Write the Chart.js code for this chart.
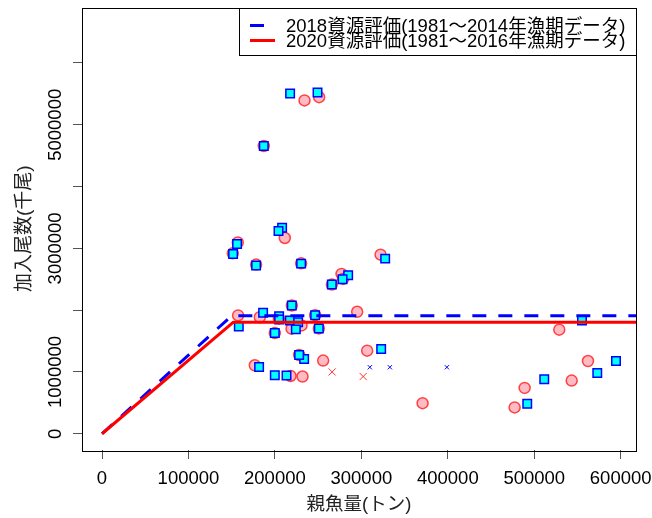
<!DOCTYPE html>
<html>
<head>
<meta charset="utf-8">
<script src="https://cdn.jsdelivr.net/npm/chart.js@4.4.1/dist/chart.umd.min.js"></script>
<style>
  html, body { margin: 0; padding: 0; background: #fff; }
  #wrap { width: 652px; height: 518px; }
</style>
</head>
<body>
<div id="wrap"><canvas id="srChart" width="652" height="518"></canvas></div>
<script>
const xTicks = [0, 100000, 200000, 300000, 400000, 500000, 600000];
const yTicks = [0, 1000000, 2000000, 3000000, 4000000, 5000000, 6000000];
const yTickLabels = ['0', '1000000', '', '3000000', '', '5000000', ''];

// 2020 assessment (1981-2016), circles
const ssb2020 = [234250, 251160, 187150, 211460, 157060, 151270, 178240, 230320, 322220, 277080,
                 278930, 265850, 219560, 295140, 246530, 250810, 306710, 255790, 228010, 218060,
                 231940, 370840, 157410, 182520, 219210, 230790, 199880, 176740, 204510, 528930,
                 562150, 543290, 488890, 477310];
const rec2020 = [5394000, 5447000, 4656000, 3168000, 3097000, 2919000, 2737000, 2758000, 2898000, 2587000,
                 2506000, 2414000, 2076000, 1974000, 1919000, 1705000, 1345000, 1184000, 1274000, 935000,
                 926000, 495000, 1915000, 1887000, 1700000, 1753000, 1629000, 1108000, 1866000, 1684000,
                 1177000, 861000, 742000, 426000];

// 2018 assessment (1981-2014), squares
const ssb2018 = [217590, 249300, 187150, 208330, 204170, 156250, 151620, 178240, 230320, 327550,
                 284720, 278240, 265850, 219560, 246530, 250810, 322910, 233800, 228010, 213430,
                 158220, 186340, 204860, 204860, 217250, 226850, 224190, 199880, 181710, 199880,
                 555210, 594560, 572910, 511570, 491900];
const rec2018 = [5506000, 5523000, 4656000, 3334000, 3281000, 3071000, 2910000, 2721000, 2753000, 2834000,
                 2565000, 2500000, 2414000, 2076000, 1919000, 1705000, 1371000, 1210000, 1274000, 942000,
                 1737000, 1958000, 1903000, 1850000, 1834000, 1806000, 1689000, 1629000, 1081000, 947000,
                 1834000, 1177000, 984000, 882000, 484000];

const redCrossX = [266200, 302080];
const redCrossY = [1000000, 926000];
const blueCrossX = [309840, 332990, 398960];
const blueCrossY = [1076000, 1076000, 1076000];

// hockey-stick fits
const hs2018X = [0, 150000, 640000];
const hs2018Y = [0, 1910000, 1910000];
const hs2020X = [0, 152000, 640000];
const hs2020Y = [0, 1806000, 1806000];

const legendLabels = ['2018資源評価(1981～2014年漁期データ)', '2020資源評価(1981～2016年漁期データ)'];

const LATIN = '"Liberation Sans", Arial, sans-serif';
const CJK = '"Liberation Sans", "Noto Sans CJK JP", sans-serif';

function pairs(xs, ys) {
    return xs.map((x, i) => ({ x, y: ys[i] }));
}

const frameAndLegend = {
    id: 'frameAndLegend',
    afterDraw(chart) {
        const { ctx, chartArea: a } = chart;
        ctx.save();
        ctx.strokeStyle = '#000';
        ctx.lineWidth = 1;
        ctx.setLineDash([]);
        ctx.strokeRect(Math.round(a.left) + 0.5, Math.round(a.top) + 0.5,
            Math.round(a.right - a.left), Math.round(a.bottom - a.top));

        // legend box, top right inside the plot
        const bx = 239.5, by = Math.round(a.top) + 0.5, bw = Math.round(a.right) - 239, bh = 47;
        ctx.fillStyle = '#fff';
        ctx.fillRect(bx, by, bw, bh);
        ctx.strokeRect(bx, by, bw, bh);

        const items = chart.data.datasets.filter(d => d.legendText);
        items.forEach((d, i) => {
            const y = by + 17 + i * 15;
            ctx.strokeStyle = d.borderColor;
            ctx.lineWidth = d.borderWidth;
            ctx.setLineDash(d.borderDash || []);
            ctx.beginPath();
            ctx.moveTo(250, y);
            ctx.lineTo(275, y);
            ctx.stroke();
            ctx.setLineDash([]);
            ctx.fillStyle = '#000';
            ctx.font = '18.5px ' + CJK;
            ctx.textBaseline = 'middle';
            ctx.textAlign = 'left';
            ctx.fillText(d.legendText, 286, y + 1);
        });
        ctx.restore();
    }
};

function noLabelOverflow(s) {
    s.paddingLeft = 0;
    s.paddingRight = 0;
    s.paddingTop = 0;
    s.paddingBottom = 0;
}

new Chart(document.getElementById('srChart'), {
    type: 'scatter',
    data: {
        datasets: [
            {
                label: '2020',
                data: pairs(ssb2020, rec2020),
                pointStyle: 'circle',
                pointRadius: 5.5,
                backgroundColor: '#FFBAC4',
                borderColor: 'rgba(255,0,0,0.7)',
                borderWidth: 1.5,
                order: 5
            },
            {
                label: 'excluded 2020',
                data: pairs(redCrossX, redCrossY),
                pointStyle: 'crossRot',
                pointRadius: 5,
                borderColor: 'rgba(255,0,0,0.8)',
                borderWidth: 1,
                order: 4
            },
            {
                label: 'excluded 2018',
                data: pairs(blueCrossX, blueCrossY),
                pointStyle: 'crossRot',
                pointRadius: 3,
                borderColor: '#0000FF',
                borderWidth: 1,
                order: 4
            },
            {
                label: '2018',
                data: pairs(ssb2018, rec2018),
                pointStyle: 'rect',
                pointRadius: 6,
                backgroundColor: '#00FFFF',
                borderColor: '#0000FF',
                borderWidth: 1.5,
                order: 3
            },
            {
                label: 'HS 2018',
                legendText: legendLabels[0],
                data: pairs(hs2018X, hs2018Y),
                showLine: true,
                pointRadius: 0,
                borderColor: '#0000FF',
                borderWidth: 3,
                borderDash: [14, 12],
                borderJoinStyle: 'round',
                tension: 0,
                clip: 0,
                order: 2
            },
            {
                label: 'HS 2020',
                legendText: legendLabels[1],
                data: pairs(hs2020X, hs2020Y),
                showLine: true,
                pointRadius: 0,
                borderColor: '#FF0000',
                borderWidth: 3,
                borderJoinStyle: 'round',
                tension: 0,
                clip: 0,
                order: 1
            }
        ]
    },
    options: {
        responsive: false,
        animation: false,
        layout: { padding: { top: 6, right: 16, left: 0, bottom: 0 } },
        plugins: {
            legend: { display: false },
            tooltip: { enabled: false }
        },
        scales: {
            x: {
                type: 'linear',
                min: -23150,
                max: 617700,
                afterBuildTicks: s => { s.ticks = xTicks.map(v => ({ value: v })); },
                afterFit: s => { s.height = 68; noLabelOverflow(s); },
                grid: { drawOnChartArea: false, drawTicks: true, tickLength: 9, color: '#555' },
                border: { display: false },
                ticks: {
                    autoSkip: false,
                    maxRotation: 0,
                    padding: 9,
                    color: '#000',
                    font: { family: LATIN, size: 18.5 },
                    callback: v => String(v)
                },
                title: {
                    display: true,
                    text: '親魚量(トン)',
                    color: '#222',
                    font: { family: CJK, size: 18.5 },
                    padding: { top: 0, bottom: 2 }
                }
            },
            y: {
                type: 'linear',
                min: -263000,
                max: 6898000,
                afterBuildTicks: s => { s.ticks = yTicks.map(v => ({ value: v })); },
                afterFit: s => { s.width = 82; noLabelOverflow(s); },
                grid: { drawOnChartArea: false, drawTicks: true, tickLength: 9, color: '#555' },
                border: { display: false },
                ticks: {
                    autoSkip: false,
                    minRotation: 90,
                    maxRotation: 90,
                    crossAlign: 'center',
                    padding: -19,
                    color: '#000',
                    font: { family: LATIN, size: 18.5 },
                    callback: v => {
                        const i = yTicks.indexOf(v);
                        return i >= 0 ? yTickLabels[i] : '';
                    }
                },
                title: {
                    display: true,
                    text: '加入尾数(千尾)',
                    color: '#222',
                    font: { family: CJK, size: 19 },
                    padding: { top: 13, bottom: 0 }
                }
            }
        }
    },
    plugins: [frameAndLegend]
});
</script>
</body>
</html>
